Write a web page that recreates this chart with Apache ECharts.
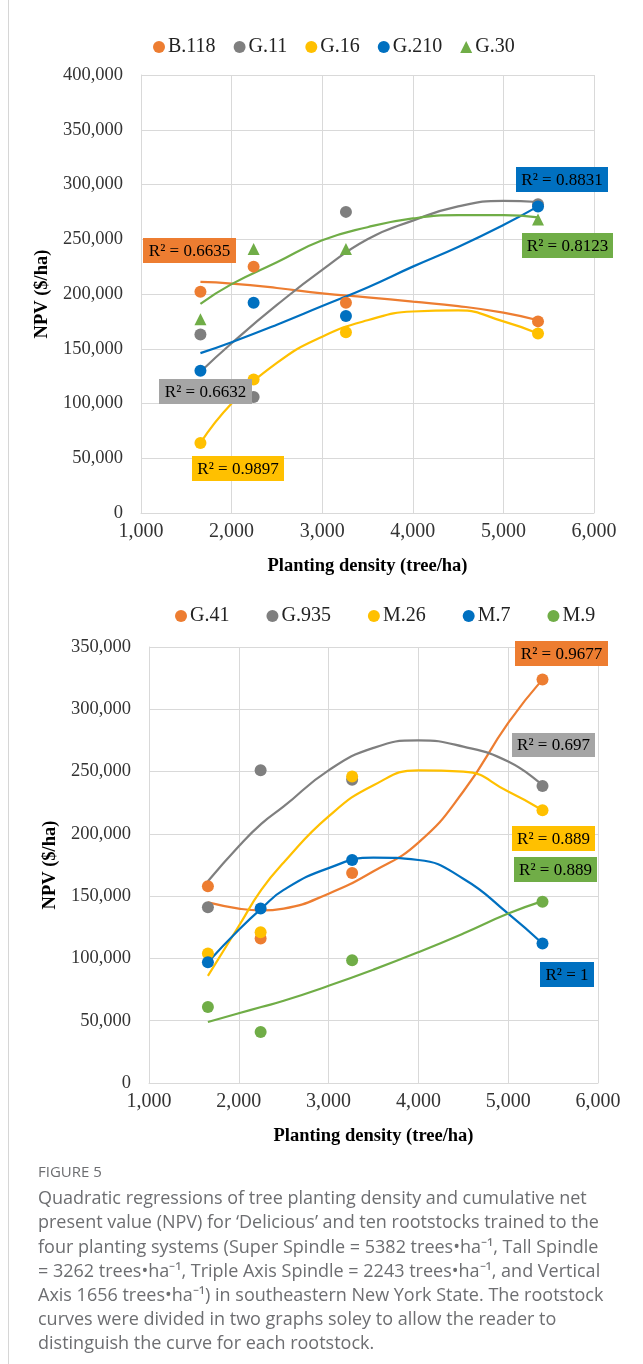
<!DOCTYPE html>
<html>
<head>
<meta charset="utf-8">
<script src="https://cdn.jsdelivr.net/npm/echarts@6/dist/echarts.min.js"></script>
<style>
  html, body { margin: 0; padding: 0; background: #fff; }
  #chart { width: 643px; height: 1364px; }
</style>
</head>
<body>
<div id="chart"></div>
<script>
// planting densities (trees/ha) of the four systems
var densities = [1656, 2243, 3262, 5382];

// top panel - NPV ($/ha)
var topNames = ['B.118', 'G.11', 'G.16', 'G.210', 'G.30'];
var b118 = [202000, 225000, 192000, 175000];
var g11 = [163000, 106000, 275000, 282000];
var g16 = [64000, 122000, 165000, 164000];
var g210 = [130000, 192000, 180000, 280000];
var g30 = [177000, 241000, 241000, 268000];

// trend curves
var topTrendX = [1656, 2000, 2500, 3000, 3500, 4000, 4500, 5000, 5382];
var b118Trend = [211000, 209500, 205500, 200500, 197000, 193000, 189000, 183000, 176000];
var g11Trend = [129000, 155000, 190000, 222000, 250000, 267000, 280000, 285000, 284000];
var g16Trend = [64000, 100000, 137000, 161000, 176000, 184000, 185000, 175000, 164000];
var g210Trend = [146000, 156000, 172000, 189000, 206000, 225000, 243000, 263000, 280000];
var g30Trend = [191000, 209000, 229000, 249000, 261000, 269000, 272000, 272000, 270000];
var topR2 = ['0.6635', '0.6632', '0.9897', '0.8831', '0.8123'];

// bottom panel
var botNames = ['G.41', 'G.935', 'M.26', 'M.7', 'M.9'];
var g41 = [158000, 116000, 168500, 324000];
var g935 = [141000, 251000, 243500, 238500];
var m26 = [104000, 121000, 246000, 219000];
var m7 = [97000, 140000, 179000, 112000];
var m9 = [61000, 41000, 98500, 145500];

var botTrendX = [1656, 2000, 2250, 2500, 3000, 3500, 4000, 4500, 5000, 5382];
var g41Trend = [145000, 140000, 138500, 140000, 152000, 170000, 193000, 234000, 289000, 324000];
var g935Trend = [162000, 190000, 208000, 222000, 251000, 269000, 275000, 270000, 258000, 239000];
var m26Trend = [86000, 126000, 155000, 177000, 214000, 239000, 251000, 250000, 234000, 219000];
var m7Trend = [97000, 123000, 140000, 155000, 172500, 181000, 179000, 164000, 136000, 112000];
var m9Trend = [49000, 56000, 61000, 66000, 78000, 91000, 105000, 120000, 136000, 146000];
var botR2 = ['0.9677', '0.697', '0.889', '1', '0.889'];

var xTicks = [1000, 2000, 3000, 4000, 5000, 6000];

var colors = ['#ED7D31', '#7F7F7F', '#FFC000', '#0070C0', '#70AD47'];
var boxColors = ['#ED7D31', '#A5A5A5', '#FFC000', '#0070C0', '#70AD47'];
var serif = '"Liberation Serif", "Times New Roman", serif';

function pairs(xs, ys) {
  return xs.map(function (x, i) { return [x, ys[i]]; });
}
function comma(v) {
  return String(v).replace(/\B(?=(\d{3})+(?!\d))/g, ',');
}

var series = [];
function addPanel(idx, names, points, trends, trendX) {
  trends.forEach(function (t, i) {
    series.push({
      type: 'line', xAxisIndex: idx, yAxisIndex: idx,
      data: pairs(trendX, t), smooth: 0.5,
      showSymbol: false, silent: true, z: 2,
      lineStyle: { color: colors[i], width: 2.2 }
    });
  });
  points.forEach(function (p, i) {
    series.push({
      name: names[i], type: 'scatter', xAxisIndex: idx, yAxisIndex: idx,
      data: pairs(densities, p), symbolSize: 12, z: 3,
      symbol: (idx === 0 && i === 4) ? 'triangle' : 'circle',
      itemStyle: { color: colors[i], opacity: 1 }
    });
  });
}
addPanel(0, topNames, [b118, g11, g16, g210, g30],
  [b118Trend, g11Trend, g16Trend, g210Trend, g30Trend], topTrendX);
addPanel(1, botNames, [g41, g935, m26, m7, m9],
  [g41Trend, g935Trend, m26Trend, m7Trend, m9Trend], botTrendX);

function xAxis(idx) {
  return {
    type: 'value', gridIndex: idx, min: xTicks[0], max: xTicks[xTicks.length - 1], interval: 1000,
    axisLine: { show: true, lineStyle: { color: '#D9D9D9' } },
    axisTick: { show: false },
    splitLine: { show: true, lineStyle: { color: '#D9D9D9' } },
    axisLabel: { fontFamily: serif, fontSize: 20, color: '#333', margin: 9, formatter: comma },
    name: 'Planting density (tree/ha)', nameLocation: 'middle', nameGap: 44,
    nameTextStyle: { fontFamily: serif, fontWeight: 'bold', fontSize: 18.5, color: '#000' }
  };
}
function yAxis(idx, max) {
  return {
    type: 'value', gridIndex: idx, min: 0, max: max, interval: 50000,
    axisLine: { show: true, lineStyle: { color: '#D9D9D9' } },
    axisTick: { show: false },
    splitLine: { show: true, lineStyle: { color: '#D9D9D9' } },
    axisLabel: { fontFamily: serif, fontSize: 18.5, color: '#333', margin: 18, formatter: comma },
    name: 'NPV ($/ha)', nameLocation: 'middle', nameGap: 79, nameRotate: 90,
    nameTextStyle: { fontFamily: serif, fontWeight: 'bold', fontSize: 18.5, color: '#000' }
  };
}
function legend(idx, names, left, top, size, gap) {
  return {
    left: left, top: top, itemWidth: 12, itemHeight: 12, itemGap: gap,
    data: names.map(function (n, i) {
      return { name: n, icon: (idx === 0 && i === 4) ? 'triangle' : 'circle' };
    }),
    textStyle: { fontFamily: serif, fontSize: size, color: '#222', padding: [0, 0, 0, -2] },
    selectedMode: false
  };
}

// R² labels
function r2Box(text, x, y, w, h, fill) {
  return [
    { type: 'rect', shape: { x: x, y: y, width: w, height: h }, style: { fill: fill }, z: 10 },
    { type: 'text', x: x + w / 2, y: y + h / 2 + 1, z: 11,
      style: { text: 'R² = ' + text, font: '17px ' + serif, fill: '#000',
        align: 'center', verticalAlign: 'middle', textAlign: 'center', textVerticalAlign: 'middle' } }
  ];
}
var graphics = [];
graphics.push({ type: 'line', shape: { x1: 8.5, y1: 0, x2: 8.5, y2: 1364 }, style: { stroke: '#D6D6D6', lineWidth: 1 } });
[[143, 238, 93, 25], [159, 379, 93, 25], [192, 456, 92, 25], [516, 167, 92, 25], [522, 233, 91, 25]]
  .forEach(function (b, i) {
    graphics = graphics.concat(r2Box(topR2[i], b[0], b[1], b[2], b[3], boxColors[i]));
  });
[[515, 641, 93, 25], [512, 733, 83, 24], [512, 826, 83, 25], [540, 962, 54, 25], [514, 857, 83, 25]]
  .forEach(function (b, i) {
    graphics = graphics.concat(r2Box(botR2[i], b[0], b[1], b[2], b[3], boxColors[i]));
  });

// caption
var captionLines = [
  'Quadratic regressions of tree planting density and cumulative net',
  'present value (NPV) for ‘Delicious’ and ten rootstocks trained to the',
  'four planting systems (Super Spindle = 5382 trees•ha⁻¹, Tall Spindle',
  '= 3262 trees•ha⁻¹, Triple Axis Spindle = 2243 trees•ha⁻¹, and Vertical',
  'Axis 1656 trees•ha⁻¹) in southeastern New York State. The rootstock',
  'curves were divided in two graphs soley to allow the reader to',
  'distinguish the curve for each rootstock.'
];
graphics.push({ type: 'text', x: 38, y: 1173, style: { text: 'FIGURE 5', font: '15px "Open Sans", sans-serif',
  fill: '#6d6e71', verticalAlign: 'middle', textVerticalAlign: 'middle' } });
captionLines.forEach(function (line, i) {
  graphics.push({ type: 'text', x: 38, y: 1199 + i * 24.2, style: { text: line, font: '18px "Open Sans", sans-serif',
    fill: '#6d6e71', verticalAlign: 'middle', textVerticalAlign: 'middle' } });
});

var chart = echarts.init(document.getElementById('chart'));
chart.setOption({
  animation: false,
  backgroundColor: '#fff',
  legend: [legend(0, topNames, 148, 32, 20, 18), legend(1, botNames, 170, 601, 20, 37)],
  grid: [
    { left: 141, top: 75, width: 453, height: 438 },
    { left: 149, top: 647, width: 449, height: 436 }
  ],
  xAxis: [xAxis(0), xAxis(1)],
  yAxis: [yAxis(0, 400000), yAxis(1, 350000)],
  series: series,
  graphic: graphics
});
</script>
</body>
</html>
